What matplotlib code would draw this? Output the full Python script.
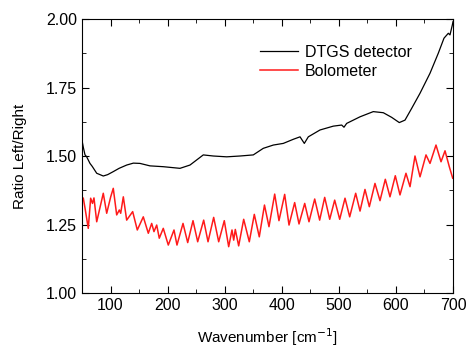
import matplotlib
matplotlib.use("Agg")
import matplotlib.pyplot as plt
from matplotlib.ticker import MultipleLocator

plt.rcParams['font.family'] = ['Liberation Sans', 'DejaVu Sans']

# DTGS detector (black)
dtgs_wn = [50.5, 52.5, 55.3, 58, 64, 68, 75.8, 87.3, 95, 104.8, 115, 128.3,
           140, 151.6, 169.1, 192.4, 221.7, 239.2, 262.5, 280, 303.5, 326.8,
           350.1, 367.6, 385.2, 402.7, 420.2, 432, 439.5, 446.5, 467, 490.3,
           505, 509, 513.7, 537, 560.3, 577.9, 592.6, 605.9, 615.9, 627.6,
           642.2, 659.7, 674.2, 684.2, 691.8, 694.7, 698.8, 700]
dtgs_ratio = [1.552, 1.530, 1.504, 1.498, 1.473, 1.462, 1.437, 1.427, 1.432,
              1.443, 1.455, 1.467, 1.474, 1.473, 1.464, 1.461, 1.455, 1.467,
              1.504, 1.500, 1.497, 1.500, 1.504, 1.528, 1.540, 1.546, 1.561,
              1.570, 1.546, 1.570, 1.595, 1.609, 1.613, 1.605, 1.619, 1.643,
              1.662, 1.658, 1.641, 1.622, 1.631, 1.674, 1.729, 1.802, 1.875,
              1.930, 1.948, 1.942, 1.978, 1.99]

# Bolometer (red), peaks and troughs of the fringes
bolo_wn = [52.3, 55.3, 61.0, 65.2, 68.4, 71.0, 75.8, 87.3, 93.3, 100.3, 104.8,
           110.8, 115.4, 117.8, 122.4, 128.3, 138.8, 146.9, 157.4, 166.2, 172.1,
           176.1, 180.9, 185.4, 192.4, 201.2, 211.2, 216.4, 227.0, 235.2, 244.5,
           252.7, 263.2, 270.8, 280.7, 289.5, 299.3, 307.0, 312.8, 315.8, 318.6,
           324.5, 333.3, 343.1, 351.9, 360.6, 369.7, 377.6, 387.6, 395.1, 405.1,
           412.7, 422.6, 430.2, 440.2, 447.7, 457.7, 466.4, 475.2, 484.0, 492.7,
           501.5, 510.8, 519.0, 529.5, 537.1, 545.8, 553.4, 563.3, 572.1, 581.4,
           589.6, 598.9, 607.1, 617.6, 624.7, 633.4, 642.2, 652.7, 659.7, 670.2,
           679.0, 686.0, 693.5, 699.5]
bolo_ratio = [1.346, 1.310, 1.236, 1.346, 1.327, 1.347, 1.260, 1.364, 1.291,
              1.351, 1.382, 1.285, 1.303, 1.291, 1.351, 1.266, 1.297, 1.230,
              1.278, 1.218, 1.254, 1.224, 1.248, 1.200, 1.236, 1.175, 1.230,
              1.175, 1.254, 1.184, 1.264, 1.187, 1.266, 1.187, 1.276, 1.187,
              1.264, 1.169, 1.230, 1.193, 1.232, 1.172, 1.269, 1.187, 1.287,
              1.205, 1.321, 1.242, 1.361, 1.264, 1.360, 1.248, 1.330, 1.252,
              1.327, 1.260, 1.343, 1.266, 1.349, 1.269, 1.339, 1.269, 1.346,
              1.278, 1.364, 1.299, 1.378, 1.315, 1.400, 1.337, 1.415, 1.351,
              1.428, 1.358, 1.437, 1.388, 1.500, 1.424, 1.504, 1.473, 1.540,
              1.479, 1.519, 1.461, 1.419]

fig = plt.figure(figsize=(4.75, 3.6), dpi=100)
ax = fig.add_axes([0.1726, 0.1861, 0.7811, 0.7611])

ax.plot(dtgs_wn, dtgs_ratio, color='black', lw=0.9, label='DTGS detector')
ax.plot(bolo_wn, bolo_ratio, color='#ff1a1a', lw=1.1, label='Bolometer',
        solid_joinstyle='round')

ax.set_xlim(50, 700)
ax.set_ylim(1.0, 2.0)
ax.xaxis.set_major_locator(MultipleLocator(100))
ax.xaxis.set_minor_locator(MultipleLocator(50))
ax.yaxis.set_major_locator(MultipleLocator(0.25))
ax.yaxis.set_minor_locator(MultipleLocator(0.125))
ax.yaxis.set_major_formatter(plt.FormatStrFormatter('%.2f'))
ax.tick_params(which='both', direction='in', top=True, right=True, labelsize=11.5)
ax.tick_params(which='major', length=5)
ax.tick_params(which='minor', length=3)

ax.set_xlabel('Wavenumber [cm$^{-1}$]', fontsize=11, labelpad=10)
ax.set_ylabel('Ratio Left/Right', fontsize=11, labelpad=14)

ax.legend(loc='upper left', bbox_to_anchor=(0.48, 0.905), frameon=False,
          fontsize=11.5, handlelength=2.4, handletextpad=0.4,
          borderpad=0, borderaxespad=0, labelspacing=0.25)

fig.savefig('out.png', dpi=100)
